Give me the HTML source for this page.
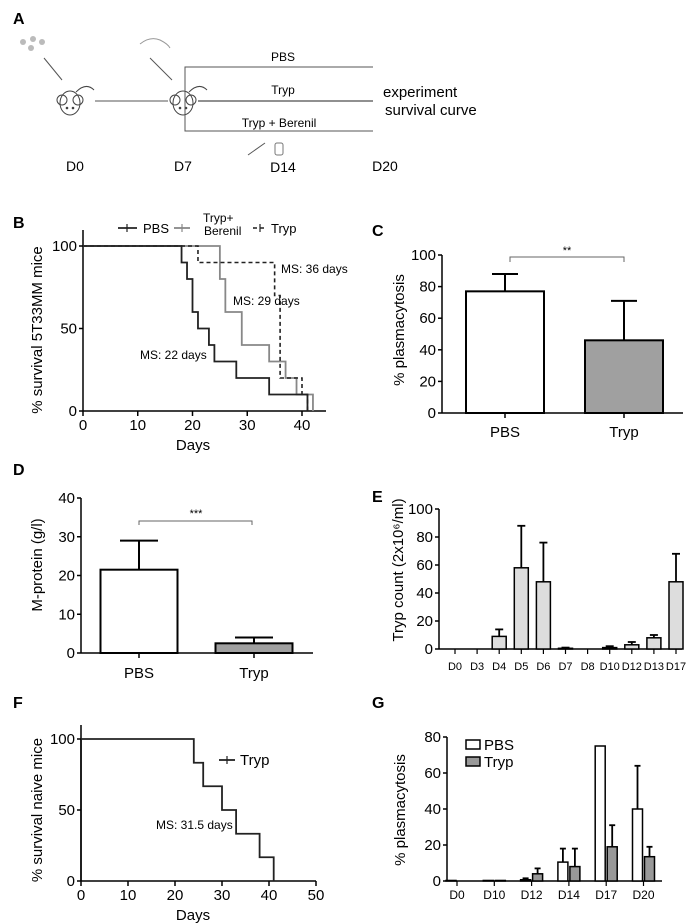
<!DOCTYPE html>
<html><head><meta charset="utf-8"><style>
body{margin:0;background:#fff}
svg{display:block;font-family:"Liberation Sans",sans-serif}
</style></head><body>
<svg id="fig" width="700" height="923" viewBox="0 0 700 923" xmlns="http://www.w3.org/2000/svg">
<g fill="none" stroke="#333">
<text x="13" y="24" font-size="16" font-weight="bold" fill="#000" stroke="none">A</text>
<g fill="#bbb" stroke="none"><circle cx="23" cy="42" r="3"/><circle cx="33" cy="39" r="3"/><circle cx="42" cy="42" r="3"/><circle cx="31" cy="48" r="3"/></g>
<line x1="44" y1="58" x2="62" y2="80" stroke="#555"/>
<line x1="150" y1="58" x2="172" y2="80" stroke="#555"/>
<path d="M140 44 q10 -8 20 -4 q8 4 10 8" stroke="#999"/>
<g stroke="#444"><ellipse cx="70" cy="103" rx="10" ry="12"/><circle cx="62" cy="100" r="5"/><circle cx="78" cy="100" r="5"/><path d="M76 92 q10 -10 18 -2"/><circle cx="67" cy="108" r="0.8" fill="#000"/><circle cx="73" cy="108" r="0.8" fill="#000"/></g>
<g stroke="#444"><ellipse cx="183" cy="103" rx="10" ry="12"/><circle cx="175" cy="100" r="5"/><circle cx="191" cy="100" r="5"/><path d="M189 92 q10 -10 18 -2"/><circle cx="180" cy="108" r="0.8" fill="#000"/><circle cx="186" cy="108" r="0.8" fill="#000"/></g>
<line x1="95" y1="101" x2="168" y2="101" stroke="#555"/>
<polyline points="373,67 185,67 185,131 373,131" stroke="#555"/>
<line x1="198" y1="101" x2="373" y2="101" stroke="#222"/>
<line x1="248" y1="155" x2="265" y2="143" stroke="#555"/>
<rect x="275" y="143" width="8" height="12" rx="2" stroke="#777"/>
<g fill="#000" stroke="none" font-size="12">
<text x="283" y="61" text-anchor="middle">PBS</text>
<text x="283" y="94" text-anchor="middle">Tryp</text>
<text x="279" y="127" text-anchor="middle">Tryp + Berenil</text>
<text x="383" y="97" font-size="15">experiment</text>
<text x="385" y="115" font-size="15">survival curve</text>
<g font-size="14" text-anchor="middle">
<text x="75" y="171">D0</text>
<text x="183" y="171">D7</text>
<text x="283" y="172">D14</text>
<text x="385" y="171">D20</text>
</g></g></g>
<g id="charts"></g>
</svg>
<script>
// Panel B survival data
const bDays=[0,10,20,30,40];
const bTicksY=[0,50,100];
const bPbsT=[0,18,19,20,21,23,24,28,34,41];
const bPbsS=[100,90,80,60,50,40,30,20,10,0];
const bBerT=[0,25,26,29,34,37,39,42];
const bBerS=[100,80,60,40,30,20,10,0];
const bTrypT=[0,21,35,36,40,41];
const bTrypS=[100,90,70,20,10,0];
// Panel C
const cCats=["PBS","Tryp"];
const cVals=[77,46];
const cErr=[88,71];
const cTicks=[0,20,40,60,80,100];
// Panel D
const dCats=["PBS","Tryp"];
const dVals=[21.5,2.5];
const dErr=[29,4];
const dTicks=[0,10,20,30,40];
// Panel E
const eCats=["D0","D3","D4","D5","D6","D7","D8","D10","D12","D13","D17"];
const eVals=[0,0,9,58,48,0.5,0,1,3,8,48];
const eErr=[0,0,14,88,76,1,0,2,5,10,68];
const eTicks=[0,20,40,60,80,100];
// Panel F
const fT=[0,24,26,30,33,38,41];
const fS=[100,83.3,66.7,50,33.3,16.7,0];
const fTicksX=[0,10,20,30,40,50];
const fTicksY=[0,50,100];
// Panel G
const gCats=["D0","D10","D12","D14","D17","D20"];
const gPbs=[0.3,0.3,0.7,10.5,75,40];
const gPbsErr=[0.3,0.3,1.5,18,75,64];
const gTryp=[0,0.3,4,8,19,13.5];
const gTrypErr=[0,0.3,7,18,31,19];
const gTicks=[0,20,40,60,80];

const NS="http://www.w3.org/2000/svg";
const root=document.getElementById('charts');
function el(tag,attrs,parent,text){const e=document.createElementNS(NS,tag);for(const k in attrs)e.setAttribute(k,attrs[k]);if(text!==undefined)e.textContent=text;(parent||root).appendChild(e);return e;}
function lin(d0,d1,r0,r1){return v=>r0+(v-d0)*(r1-r0)/(d1-d0);}
function txt(x,y,s,size,anchor,name,parent,rot){const t=el('text',{x:x,y:y,'font-size':size,'text-anchor':anchor||'middle',fill:'#000'},parent,s);


if(rot)t.setAttribute('transform','rotate(-90 '+x+' '+y+')');return t;}
function yAxis(g,x,y0,y1,ticks,sy,size){el('line',{x1:x,y1:sy(ticks[0]),x2:x,y2:sy(ticks[ticks.length-1]),stroke:'#000','stroke-width':1.5},g);
ticks.forEach(t=>{el('line',{x1:x-4,y1:sy(t),x2:x,y2:sy(t),stroke:'#000','stroke-width':1.5},g);txt(x-6,sy(t)+5,t,size||15,'end','y-tick-label',g);});}
function stepPath(T,S,sx,sy){let d='M'+sx(T[0])+' '+sy(S[0]);for(let i=1;i<T.length;i++){d+=' H'+sx(T[i])+' V'+sy(S[i]);}return d;}
function label(x,y,s){txt(x,y,s,16,'start','panel-label-'+s.toLowerCase(),root).setAttribute('font-weight','bold');}

// ---- B ----
(function(){const g=el('g',{});
label(13,228,'B');
const sx=lin(0,40,83,302), sy=lin(0,100,411,246);
yAxis(g,83,0,0,bTicksY,sy);
el('line',{x1:83,y1:246,x2:83,y2:230,stroke:'#000','stroke-width':1.5},g);
el('line',{x1:83,y1:411,x2:326,y2:411,stroke:'#000','stroke-width':1.5},g);
bDays.forEach(t=>{el('line',{x1:sx(t),y1:411,x2:sx(t),y2:416,stroke:'#000','stroke-width':1.5},g);txt(sx(t),430,t,15,'middle','x-tick-label',g);});
txt(193,450,'Days',15,'middle','x-axis-title',g);
txt(42,330,'% survival 5T33MM mice',15,'middle','y-axis-title',g,true);
let p=el('path',{d:stepPath(bBerT,bBerS,sx,sy),fill:'none',stroke:'#888','stroke-width':1.8},g);

p=el('path',{d:stepPath(bPbsT,bPbsS,sx,sy),fill:'none',stroke:'#222','stroke-width':1.8},g);

p=el('path',{d:stepPath(bTrypT,bTrypS,sx,sy),fill:'none',stroke:'#222','stroke-width':1.6,'stroke-dasharray':'4,3'},g);

txt(281,273,'MS: 36 days',12,'start','ms-tryp',g);txt(233,305,'MS: 29 days',12,'start','ms-berenil',g);txt(140,359,'MS: 22 days',12,'start','ms-pbs',g);
el('line',{x1:118,y1:228,x2:137,y2:228,stroke:'#222','stroke-width':1.8},g);el('line',{x1:127,y1:224,x2:127,y2:232,stroke:'#222','stroke-width':1.2},g);
txt(143,233,'PBS',13,'start','legend-pbs',g);
el('line',{x1:174,y1:228,x2:190,y2:228,stroke:'#888','stroke-width':1.8},g);el('line',{x1:182,y1:224,x2:182,y2:232,stroke:'#888','stroke-width':1.2},g);
txt(203,222,'Tryp+',12,'start','legend-berenil',g);txt(204,235,'Berenil',12,'start','legend-berenil-2',g);
el('line',{x1:253,y1:228,x2:267,y2:228,stroke:'#222','stroke-width':1.6,'stroke-dasharray':'4,3'},g);el('line',{x1:260,y1:224,x2:260,y2:232,stroke:'#222','stroke-width':1.2},g);
txt(271,233,'Tryp',13,'start','legend-tryp',g);
})();

// ---- C ----
(function(){const g=el('g',{});
label(372,236,'C');
const sy=lin(0,100,413,255); const cx=[505,624], bw=78;
yAxis(g,442,0,0,cTicks,sy);
el('line',{x1:442,y1:413,x2:683,y2:413,stroke:'#000','stroke-width':1.5},g);
cCats.forEach((c,i)=>{el('line',{x1:cx[i],y1:sy(cErr[i]),x2:cx[i],y2:sy(cVals[i]),stroke:'#000','stroke-width':2},g);
el('line',{x1:cx[i]-13,y1:sy(cErr[i]),x2:cx[i]+13,y2:sy(cErr[i]),stroke:'#000','stroke-width':2},g);
const r=el('rect',{x:cx[i]-bw/2,y:sy(cVals[i]),width:bw,height:413-sy(cVals[i]),fill:i?'#a0a0a0':'#fff',stroke:'#000','stroke-width':2},g);

el('line',{x1:cx[i],y1:413,x2:cx[i],y2:418,stroke:'#000','stroke-width':1.5},g);
txt(cx[i],437,c,15,'middle','x-tick-label',g);});
el('path',{d:'M510 262 V257 H624 V262',fill:'none',stroke:'#666'},g);txt(567,254,'**',11,'middle','significance',g);
txt(404,330,'% plasmacytosis',15,'middle','y-axis-title',g,true);
})();

// ---- D ----
(function(){const g=el('g',{});
label(13,475,'D');
const sy=lin(0,40,653,498); const cx=[139,254], bw=77;
yAxis(g,81,0,0,dTicks,sy);
el('line',{x1:81,y1:653,x2:313,y2:653,stroke:'#000','stroke-width':1.5},g);
dCats.forEach((c,i)=>{el('line',{x1:cx[i],y1:sy(dErr[i]),x2:cx[i],y2:sy(dVals[i]),stroke:'#000','stroke-width':2},g);
el('line',{x1:cx[i]-19,y1:sy(dErr[i]),x2:cx[i]+19,y2:sy(dErr[i]),stroke:'#000','stroke-width':2},g);
const r=el('rect',{x:cx[i]-bw/2,y:sy(dVals[i]),width:bw,height:653-sy(dVals[i]),fill:i?'#a0a0a0':'#fff',stroke:'#000','stroke-width':2},g);

el('line',{x1:cx[i],y1:653,x2:cx[i],y2:658,stroke:'#000','stroke-width':1.5},g);
txt(cx[i],678,c,15,'middle','x-tick-label',g);});
el('path',{d:'M139 525 V521 H252 V525',fill:'none',stroke:'#666'},g);txt(196,517,'***',11,'middle','significance',g);
txt(42,565,'M-protein (g/l)',15,'middle','y-axis-title',g,true);
})();

// ---- E ----
(function(){const g=el('g',{});
label(372,502,'E');
const sy=lin(0,100,649,509); const x0=455, step=22.1, bw=14;
yAxis(g,439,0,0,eTicks,sy);
el('line',{x1:439,y1:649,x2:682,y2:649,stroke:'#000','stroke-width':1.5},g);
eCats.forEach((c,i)=>{const cx=x0+i*step;
if(eErr[i]>0){el('line',{x1:cx,y1:sy(eErr[i]),x2:cx,y2:sy(eVals[i]),stroke:'#000','stroke-width':1.8},g);
el('line',{x1:cx-4,y1:sy(eErr[i]),x2:cx+4,y2:sy(eErr[i]),stroke:'#000','stroke-width':1.8},g);}
const r=el('rect',{x:cx-bw/2,y:sy(eVals[i]),width:bw,height:649-sy(eVals[i]),fill:'#ddd',stroke:'#000','stroke-width':1.5},g);

el('line',{x1:cx,y1:649,x2:cx,y2:654,stroke:'#000','stroke-width':1.2},g);
txt(cx,670,c,11,'middle','x-tick-label',g);});
txt(403,570,'Tryp count (2x10⁶/ml)',15,'middle','y-axis-title',g,true);
})();

// ---- F ----
(function(){const g=el('g',{});
label(13,708,'F');
const sx=lin(0,50,81,316), sy=lin(0,100,881,739);
yAxis(g,81,0,0,fTicksY,sy);
el('line',{x1:81,y1:881,x2:316,y2:881,stroke:'#000','stroke-width':1.5},g);
el('line',{x1:81,y1:881,x2:81,y2:725,stroke:'#000','stroke-width':1.5},g);
fTicksX.forEach(t=>{el('line',{x1:sx(t),y1:881,x2:sx(t),y2:886,stroke:'#000','stroke-width':1.5},g);txt(sx(t),900,t,15,'middle','x-tick-label',g);});
txt(193,920,'Days',15,'middle','x-axis-title',g);
txt(42,810,'% survival naive mice',15,'middle','y-axis-title',g,true);
const p=el('path',{d:stepPath(fT,fS,sx,sy),fill:'none',stroke:'#222','stroke-width':1.8},g);

el('line',{x1:219,y1:760,x2:235,y2:760,stroke:'#222','stroke-width':1.8},g);el('line',{x1:227,y1:756,x2:227,y2:764,stroke:'#222','stroke-width':1.2},g);
txt(240,765,'Tryp',15,'start','legend-tryp',g);
txt(156,829,'MS: 31.5 days',12,'start','ms-tryp',g);
})();

// ---- G ----
(function(){const g=el('g',{});
label(372,708,'G');
const sy=lin(0,80,881,737); const x0=457, step=37.3, bw=10;
yAxis(g,447,0,0,gTicks,sy);
el('line',{x1:447,y1:881,x2:662,y2:881,stroke:'#000','stroke-width':1.5},g);
function bar(cx,v,e,fill,name){if(e>v){el('line',{x1:cx,y1:sy(e),x2:cx,y2:sy(v),stroke:'#000','stroke-width':1.8},g);
el('line',{x1:cx-3,y1:sy(e),x2:cx+3,y2:sy(e),stroke:'#000','stroke-width':1.8},g);}
const r=el('rect',{x:cx-bw/2,y:sy(v),width:bw,height:881-sy(v),fill:fill,stroke:'#000','stroke-width':1.5},g);
}
gCats.forEach((c,i)=>{const cx=x0+i*step;
bar(cx-6,gPbs[i],gPbsErr[i],'#fff','bar-pbs-'+c.toLowerCase());
bar(cx+6,gTryp[i],gTrypErr[i],'#999','bar-tryp-'+c.toLowerCase());
el('line',{x1:cx,y1:881,x2:cx,y2:886,stroke:'#000','stroke-width':1.2},g);
txt(cx,899,c,12,'middle','x-tick-label',g);});
el('rect',{x:466,y:740,width:14,height:9,fill:'#fff',stroke:'#000','stroke-width':1.5},g);txt(484,750,'PBS',15,'start','legend-pbs',g);
el('rect',{x:466,y:757,width:14,height:9,fill:'#999',stroke:'#000','stroke-width':1.5},g);txt(484,767,'Tryp',15,'start','legend-tryp',g);
txt(405,810,'% plasmacytosis',15,'middle','y-axis-title',g,true);
})();
</script>
</body></html>
